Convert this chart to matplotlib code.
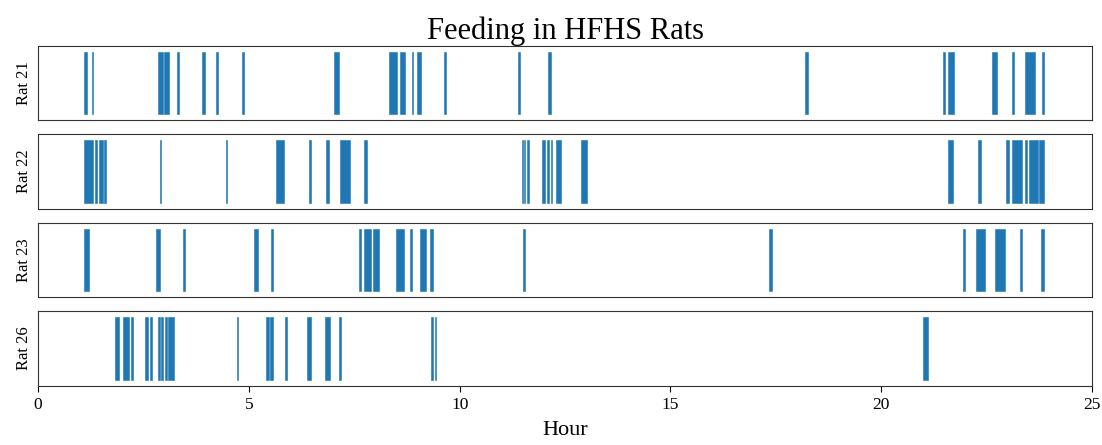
"""
Feeding bouts per rat over the 24 h day (HFHS group), one raster row per rat.
Each bout is a (start, end) span in hours.
"""

import matplotlib
matplotlib.use('Agg')
import matplotlib.pyplot as plt

RATS = ['Rat 21', 'Rat 22', 'Rat 23', 'Rat 26']

# bout start / end times (hours)
RAT21_START = [1.10, 1.27, 2.85, 2.99, 3.30, 3.90, 4.23, 4.83, 7.03, 8.33,
               8.58, 8.86, 9.00, 9.64, 11.38, 12.10, 18.19, 21.47, 21.59,
               22.63, 23.09, 23.42, 23.82]
RAT21_END = [1.17, 1.30, 2.96, 3.11, 3.34, 3.97, 4.26, 4.88, 7.14, 8.51,
             8.70, 8.90, 9.08, 9.68, 11.43, 12.17, 18.26, 21.50, 21.72,
             22.74, 23.14, 23.64, 23.86]

RAT22_START = [1.10, 1.36, 1.45, 1.57, 2.89, 4.45, 5.64, 6.43, 6.84, 7.17,
               7.74, 11.47, 11.53, 11.59, 11.95, 12.08, 12.16, 12.28, 12.88,
               21.59, 22.29, 22.95, 23.10, 23.41, 23.51, 23.74]
RAT22_END = [1.31, 1.40, 1.53, 1.61, 2.92, 4.48, 5.83, 6.47, 6.91, 7.41,
             7.81, 11.50, 11.56, 11.64, 12.03, 12.12, 12.20, 12.41, 13.01,
             21.70, 22.36, 23.02, 23.33, 23.46, 23.71, 23.86]

RAT23_START = [1.09, 2.80, 3.43, 5.13, 5.53, 7.62, 7.74, 7.95, 8.48, 8.82,
               9.07, 9.30, 11.51, 17.33, 21.94, 22.25, 22.70, 23.29, 23.79]
RAT23_END = [1.22, 2.89, 3.48, 5.21, 5.57, 7.67, 7.89, 8.08, 8.68, 8.86,
             9.20, 9.37, 11.55, 17.41, 21.99, 22.45, 22.94, 23.34, 23.87]

RAT26_START = [1.83, 2.01, 2.21, 2.54, 2.66, 2.85, 2.92, 3.00, 3.09, 4.71,
               5.41, 5.50, 5.86, 6.39, 6.81, 7.14, 9.33, 9.41, 20.98]
RAT26_END = [1.91, 2.15, 2.25, 2.62, 2.70, 2.89, 2.97, 3.05, 3.23, 4.75,
             5.48, 5.57, 5.90, 6.47, 6.92, 7.19, 9.37, 9.45, 21.10]

BOUTS = [(RAT21_START, RAT21_END), (RAT22_START, RAT22_END),
         (RAT23_START, RAT23_END), (RAT26_START, RAT26_END)]

XTICKS = [0, 5, 10, 15, 20, 25]

plt.rcParams['font.family'] = ['Liberation Serif', 'DejaVu Serif']

fig, axes = plt.subplots(len(RATS), 1, figsize=(11.02, 4.45), dpi=100,
                         sharex=True)
fig.subplots_adjust(left=0.0345, right=0.991, top=0.897, bottom=0.133,
                    hspace=0.19)

for ax, name, (starts, ends) in zip(axes, RATS, BOUTS):
    spans = [(s, e - s) for s, e in zip(starts, ends)]
    ax.broken_barh(spans, (0.08, 0.84), facecolors='#1f77b4',
                   edgecolor='#1f77b4', linewidth=0.4)
    ax.set_xlim(0, 25)
    ax.set_ylim(0, 1)
    ax.set_yticks([])
    ax.set_ylabel(name, fontsize=12, labelpad=4)
    ax.tick_params(axis='x', bottom=False, labelbottom=False)
    for sp in ax.spines.values():
        sp.set_color('#333333')

axes[-1].tick_params(axis='x', bottom=True, labelbottom=True, labelsize=12.5,
                     length=4, pad=4)
axes[-1].set_xticks(XTICKS)
axes[-1].set_xlabel('Hour', fontsize=16, labelpad=6)
axes[0].set_title('Feeding in HFHS Rats', fontsize=22, pad=3)

fig.savefig('out.png', dpi=100)
